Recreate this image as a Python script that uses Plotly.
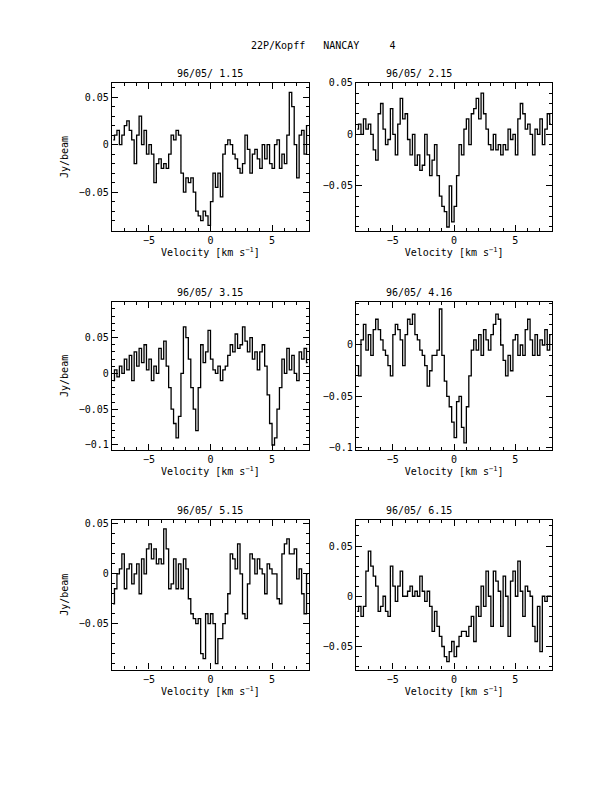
import numpy as np
import plotly.graph_objects as go

# channel centres, km/s
velocity = np.round(np.arange(-7.9, 8.0, 0.2), 2)

titles = ["96/05/ 1.15", "96/05/ 2.15", "96/05/ 3.15", "96/05/ 4.16", "96/05/ 5.15", "96/05/ 6.15"]

flux_115 = [0.005,0.01,0.015,0.0,0.01,0.02,0.025,0.015,0.005,-0.02,
            0.01,0.03,0.0,0.015,-0.01,0.0,-0.01,-0.04,-0.02,-0.015,
            -0.025,-0.02,-0.025,-0.01,0.01,0.005,0.015,0.01,-0.03,-0.05,
            -0.035,-0.04,-0.035,-0.05,-0.07,-0.075,-0.08,-0.07,-0.075,-0.085,
            -0.06,-0.03,-0.045,-0.03,-0.055,-0.01,0.0,0.005,0.0,-0.01,
            -0.015,-0.025,-0.03,-0.02,0.01,-0.005,-0.03,-0.01,-0.005,-0.015,
            -0.025,0.0,-0.015,0.0,-0.02,-0.025,0.0,0.005,-0.025,-0.01,
            -0.02,0.01,0.055,0.04,0.0,-0.035,0.01,0.015,-0.01,0.02]
flux_215 = [0.005,0.01,0.0,0.015,0.005,0.01,0.0,-0.015,-0.025,0.02,
            0.03,0.005,-0.01,-0.005,0.025,0.0,-0.02,0.01,0.035,0.015,
            0.02,-0.005,-0.02,0.0,-0.03,-0.02,-0.035,-0.03,0.0,-0.02,
            -0.04,-0.025,-0.01,-0.04,-0.06,-0.07,-0.075,-0.09,-0.05,-0.085,
            -0.07,-0.04,-0.01,-0.02,0.005,0.015,-0.01,0.02,0.025,0.035,
            0.015,0.04,0.02,0.005,-0.01,-0.015,0.0,-0.015,-0.01,-0.02,
            -0.01,-0.015,0.005,-0.005,0.0,-0.02,0.015,0.03,0.02,0.005,
            0.01,0.0,-0.02,0.005,0.0,0.015,-0.01,0.005,0.02,0.01]
flux_315 = [-0.01,0.005,-0.005,0.01,0.0,0.02,0.005,0.025,-0.01,0.03,
            0.01,0.035,0.015,0.04,0.005,0.02,-0.01,0.01,0.0,0.035,
            0.02,0.045,0.01,-0.02,-0.05,-0.07,-0.09,-0.06,0.0,0.065,
            0.05,0.02,-0.02,-0.05,-0.08,-0.02,0.04,0.015,0.03,0.06,
            0.02,0.005,0.0,0.01,-0.01,0.005,0.01,0.025,0.04,0.03,
            0.055,0.035,0.04,0.065,0.045,0.03,0.05,0.02,0.03,0.005,
            0.03,0.04,0.01,-0.03,-0.07,-0.1,-0.09,-0.05,-0.02,0.02,
            0.0,0.035,0.005,0.025,0.0,-0.01,0.03,0.02,0.035,0.015]
flux_416 = [-0.02,-0.03,0.005,0.02,-0.005,0.01,-0.01,0.015,0.025,0.015,
            0.005,-0.005,-0.01,-0.02,-0.03,0.01,0.02,0.015,0.005,-0.02,
            0.01,0.025,0.02,0.03,0.01,0.005,-0.005,-0.01,-0.02,-0.04,
            -0.025,-0.01,-0.01,-0.005,0.035,-0.01,-0.035,-0.05,-0.06,-0.075,
            -0.09,-0.055,-0.05,-0.08,-0.095,-0.06,-0.03,-0.005,0.005,-0.005,
            0.01,-0.01,0.015,0.005,-0.005,0.01,0.02,0.03,0.025,0.0,
            -0.015,-0.03,-0.01,-0.025,0.005,0.01,-0.01,0.0,-0.01,0.015,
            0.025,0.005,-0.01,0.01,-0.01,0.005,0.0,0.015,-0.005,0.01]
flux_515 = [-0.03,-0.015,0.0,0.005,0.02,-0.015,0.005,0.01,-0.01,0.0,
            0.01,-0.02,0.015,0.0,0.025,0.03,0.015,0.025,0.01,0.015,
            0.01,0.045,0.025,-0.015,-0.01,0.015,-0.015,0.01,-0.015,0.015,
            0.005,-0.025,-0.04,-0.045,-0.05,-0.045,-0.08,-0.085,-0.04,-0.05,
            -0.04,-0.05,-0.09,-0.065,-0.065,-0.05,-0.04,-0.02,0.02,0.015,
            0.005,0.03,0.0,-0.04,-0.045,-0.01,0.02,0.015,0.0,0.015,
            0.005,0.0,-0.02,0.01,0.005,0.0,0.0,-0.025,-0.03,0.02,
            0.03,0.035,0.02,0.02,0.025,-0.005,0.005,-0.02,-0.04,0.0]
flux_615 = [-0.015,-0.01,-0.02,-0.01,0.025,0.045,0.03,0.02,0.01,-0.015,
            -0.01,0.0,-0.015,-0.02,0.03,0.01,-0.005,0.01,0.025,0.0,
            0.0,0.005,0.01,0.0,0.005,0.0,0.02,0.005,-0.005,0.005,
            -0.01,-0.035,-0.015,-0.03,-0.04,-0.05,-0.06,-0.065,-0.055,-0.045,
            -0.06,-0.05,-0.04,-0.035,-0.035,-0.04,-0.03,-0.02,-0.045,-0.01,
            -0.02,0.01,-0.01,0.025,0.0,-0.03,0.025,0.015,0.005,-0.03,
            0.02,0.0,-0.04,0.015,0.025,0.0,0.035,0.005,-0.02,0.01,
            0.005,0.0,-0.03,-0.045,-0.01,-0.055,0.0,-0.005,0.0,0.0]

spectra = [flux_115, flux_215, flux_315, flux_416, flux_515, flux_615]
yranges = [[-0.091, 0.065], [-0.094, 0.05], [-0.107, 0.1],
           [-0.102, 0.042], [-0.096, 0.054], [-0.073, 0.076]]

xdom = [[0.1745, 0.505], [0.584, 0.913]]
ydom = [[0.716, 0.909], [0.431, 0.624], [0.145, 0.340]]

font = dict(family="DejaVu Sans Mono", size=10, color="black")
fig = go.Figure()
for i, (flux, title) in enumerate(zip(spectra, titles)):
    row, col = divmod(i, 2)
    n = i + 1
    xa = "x" if n == 1 else f"x{n}"
    ya = "y" if n == 1 else f"y{n}"
    fig.add_trace(go.Scatter(x=velocity, y=flux, mode="lines", line_shape="hvh",
                             line=dict(color="black", width=1.3),
                             xaxis=xa, yaxis=ya, showlegend=False))
    common = dict(showgrid=False, zeroline=False, showline=True, linecolor="black",
                  linewidth=1.3, mirror="ticks", ticks="inside", ticklen=6,
                  tickcolor="black", tickfont=font)
    fig.layout[f"xaxis{'' if n == 1 else n}"] = dict(
        common, domain=xdom[col], anchor=ya, range=[-8, 8],
        tickvals=[-5, 0, 5], ticktext=["\u22125", "0", "5"],
        minor=dict(dtick=1, ticks="inside", ticklen=3, tickcolor="black"),
        title=dict(text="Velocity [km s<sup>\u22121</sup>]", font=font, standoff=2))
    fig.layout[f"yaxis{'' if n == 1 else n}"] = dict(
        common, domain=ydom[row], anchor=xa, range=yranges[i],
        tickvals=[-0.1, -0.05, 0, 0.05], ticktext=["\u22120.1", "\u22120.05", "0", "0.05"],
        minor=dict(dtick=0.01, ticks="inside", ticklen=3, tickcolor="black"),
        title=dict(text="Jy/beam" if col == 0 else "", font=font, standoff=8))
    fig.add_annotation(text=title, x=sum(xdom[col]) / 2, y=ydom[row][1],
                       xref="paper", yref="paper", yanchor="bottom", yshift=2,
                       showarrow=False, font=font)

fig.add_annotation(text="22P/Kopff   NANCAY     4", x=0.53, y=0.968, xref="paper", yref="paper",
                   showarrow=False, font=font)
fig.update_layout(width=596, height=776, margin=dict(l=0, r=0, t=0, b=0),
                  plot_bgcolor="white", paper_bgcolor="white")
fig.write_html("out.html")
